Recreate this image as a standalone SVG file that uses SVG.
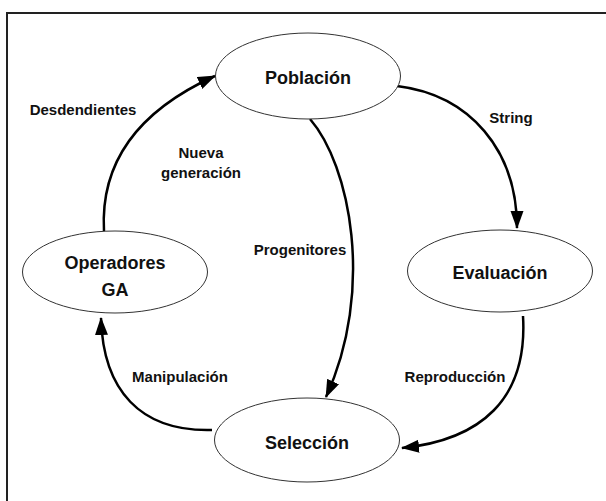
<svg xmlns="http://www.w3.org/2000/svg" width="606" height="501" viewBox="0 0 606 501">
<defs>
<marker id="ah" markerUnits="userSpaceOnUse" markerWidth="18" markerHeight="14" refX="17" refY="6.5" orient="auto">
<path d="M0,0 L18,6.5 L0,13 z" fill="#000"/>
</marker>
<style>
.node ellipse{fill:#fff;stroke:#333;stroke-width:1}
.node text{font-family:"Liberation Sans",Arial,sans-serif;font-weight:bold;font-size:18px;fill:#111;text-anchor:middle}
.edge{fill:none;stroke:#000;stroke-width:2.5;marker-end:url(#ah)}
.lbl{font-family:"Liberation Sans",Arial,sans-serif;font-weight:bold;font-size:15px;fill:#111;text-anchor:middle}
.frame{fill:none;stroke:#222;stroke-width:2}
</style>
</defs>
<rect width="606" height="501" fill="#fff"/>
<path class="frame" d="M7,501 L7,13 L606,13"/>
<g id="connectors">
<path class="edge" d="M104,231 C100,160 140,110 215,76"/>
<path class="edge" d="M397,86 C470,95 517,150 517,228"/>
<path class="edge" d="M310,119 C350,165 375,290 326,397"/>
<path class="edge" d="M523,316 C528,400 480,440 402,448"/>
<path class="edge" d="M212,430 C140,432 103,390 101,318"/>
<text class="lbl" x="83" y="115">Desdendientes</text>
<text class="lbl" x="201" y="158">Nueva</text>
<text class="lbl" x="201" y="178">generación</text>
<text class="lbl" x="511" y="123">String</text>
<text class="lbl" x="300" y="255">Progenitores</text>
<text class="lbl" x="180" y="382">Manipulación</text>
<text class="lbl" x="455" y="382">Reproducción</text>
</g>
<g id="poblacion" class="node">
<ellipse cx="308" cy="76" rx="92.5" ry="43"/>
<text x="308" y="84">Población</text>
</g>
<g id="operadores" class="node">
<ellipse cx="115" cy="272" rx="92.5" ry="41"/>
<text x="115" y="269">Operadores</text>
<text x="115" y="296">GA</text>
</g>
<g id="evaluacion" class="node">
<ellipse cx="500" cy="271" rx="92.5" ry="41"/>
<text x="500" y="279">Evaluación</text>
</g>
<g id="seleccion" class="node">
<ellipse cx="307" cy="440" rx="92.5" ry="42"/>
<text x="307" y="449">Selección</text>
</g>
</svg>
